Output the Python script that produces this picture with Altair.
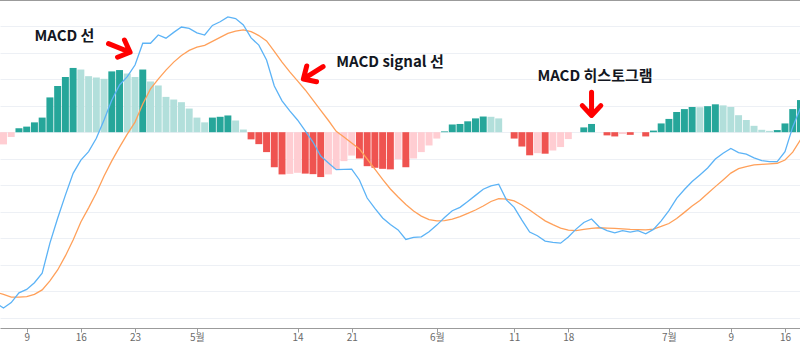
import altair as alt
import pandas as pd

# ---------------- data ----------------
start_date = "2019-04-05"

hist_values = [
    # April 5 .. 30
    -6.0, -4.6, -1.8, 1.5, 2.1, 3.7, 5.5, 13.1, 17.4, 20.8, 24.2, 23.6, 21.1,
    20.6, 20.1, 22.9, 23.4, 22.1, 20.8, 23.6, 19.1, 17.6, 13.3, 12.3, 11.3, 8.9,
    # May 1 .. 31
    5.5, 3.7, 5.5, 5.8, 6.3, 4.4, 1.0, -2.7, -4.5, -7.5, -13.2, -15.9, -15.7,
    -15.3, -15.6, -15.8, -16.9, -15.9, -14.0, -10.9, -8.8, -9.9, -12.8, -13.4,
    -13.8, -14.0, -10.2, -13.2, -9.9, -7.5, -5.0,
    # June 1 .. 30
    -2.4, 0.3, 2.9, 3.1, 4.1, 5.2, 5.9, 5.8, 5.2, 0.0, -2.4, -5.4, -8.7, -7.9,
    -8.1, -6.9, -5.6, -2.6, 0.0, 1.8, 3.1, 0.0, -1.2, -1.6, -0.7, -1.0, 0.0,
    -1.6, 0.6, 3.3,
    # July 1 .. 18
    5.0, 7.6, 8.7, 9.5, 9.4, 9.8, 10.5, 10.1, 9.5, 6.4, 4.6, 2.4, 0.9, 0.5, 0.8,
    3.3, 8.7, 12.1,
]

macd_values = [
    -64.3, -66.2, -64.2, -60.5, -59.2, -56.7, -53.1, -41.8, -32.4, -23.7, -15.5,
    -10.5, -7.3, -2.3, 4.6, 12.1, 17.8, 20.9, 25.3, 33.5, 33.5, 36.6, 35.4, 37.6,
    39.6, 39.1,
    37.4, 36.6, 40.2, 41.6, 43.4, 42.8, 40.4, 35.5, 32.8, 27.2, 17.4, 11.8, 8.0,
    4.6, 0.5, -3.7, -9.0, -11.6, -14.1, -14.0, -13.9, -18.0, -24.8, -28.7, -32.3,
    -34.8, -36.8, -40.4, -39.6, -39.4, -37.5,
    -35.0, -32.1, -29.6, -28.3, -26.1, -23.8, -21.5, -20.2, -19.6, -25.5, -28.3,
    -33.1, -37.6, -39.0, -41.0, -41.5, -41.8, -39.5, -36.5, -34.0, -32.7, -35.7,
    -37.1, -37.9, -37.1, -37.6, -37.1, -38.3, -36.6, -33.4,
    -29.5, -24.9, -21.6, -18.6, -16.1, -13.5, -10.1, -7.9, -6.1, -7.7, -8.3,
    -9.7, -10.7, -11.1, -11.1, -7.3, 2.0, 9.1,
]

signal_values = [
    -60.2, -61.1, -62.1, -62.1, -61.9, -61.1, -59.4, -56.0, -51.9, -46.6, -40.6,
    -33.8, -28.5, -22.9, -16.5, -10.8, -5.6, -0.7, 3.8, 10.6, 16.3, 20.0, 23.4,
    26.4, 28.9, 30.8,
    32.0, 32.7, 34.2, 35.7, 37.2, 38.1, 38.5, 37.9, 36.4, 34.4, 30.4, 26.4, 22.7,
    19.3, 15.9, 12.1, 8.2, 4.4, 0.3, -1.8, -4.1, -6.3, -10.1, -13.9, -17.8,
    -21.4, -24.4, -27.2, -29.7, -31.6, -32.9,
    -33.4, -33.3, -32.7, -31.8, -30.6, -29.3, -27.8, -26.1, -25.0, -25.2, -25.9,
    -27.4, -29.3, -31.4, -33.4, -34.8, -36.1, -36.9, -37.1, -36.6, -36.2, -36.0,
    -36.1, -36.2, -36.4, -36.6, -36.7, -36.8, -36.5, -35.5,
    -34.4, -32.5, -30.2, -27.8, -25.7, -23.1, -20.5, -18.0, -15.4, -13.7, -13.0,
    -12.3, -12.1, -11.9, -11.7, -10.5, -7.5, -2.9,
]

tick_dates = ["2019-04-09", "2019-04-16", "2019-04-23", "2019-05-01",
              "2019-05-14", "2019-05-21", "2019-06-01", "2019-06-11",
              "2019-06-18", "2019-07-01", "2019-07-09", "2019-07-16"]

grid_values = [-70, -60, -50, -40, -30, -20, -10, 0, 10, 20, 30, 40]

ann_labels = ["MACD 선", "MACD signal 선", "MACD 히스토그램"]
ann_dates = ["2019-04-10", "2019-05-19", "2019-06-14"]
ann_values = [36.3, 26.6, 21.2]

arrow_dates = ["2019-04-21", "2019-05-16", "2019-06-21"]
arrow_values = [31.7, 22.3, 10.6]

# ---------------- helpers ----------------
DAY_MS = 86400000


def ms(s):
    return int(pd.Timestamp(s, tz="UTC").value // 10**6)


dates = pd.date_range(start_date, periods=len(hist_values), freq="D", tz="UTC")
t_ms = [int(d.value // 10**6) for d in dates]

kinds = []
prev = hist_values[0]
for v in hist_values:
    if v >= 0:
        kinds.append("pos_up" if v >= prev else "pos_down")
    else:
        kinds.append("neg_down" if v < prev else "neg_up")
    prev = v

hist_df = pd.DataFrame({
    "t0": [t - 0.45 * DAY_MS for t in t_ms],
    "t1": [t + 0.45 * DAY_MS for t in t_ms],
    "hist": hist_values,
    "kind": kinds,
})

macd_df = pd.DataFrame({"t": t_ms, "v": macd_values})
signal_df = pd.DataFrame({"t": t_ms, "v": signal_values})

ann_df = pd.DataFrame({"t": [ms(d) for d in ann_dates], "v": ann_values,
                       "label": ann_labels})

x_domain = [ms("2019-04-09") - int(3.45 * DAY_MS),
            ms("2019-04-09") + int(99.94 * DAY_MS)]

xs = alt.Scale(type="utc", domain=x_domain, nice=False)
ys = alt.Scale(domain=[-73.75, 49.79], nice=False, zero=False)

x_axis = alt.Axis(
    values=[ms(d) for d in tick_dates],
    labelExpr="utcdate(datum.value) == 1 ? (utcmonth(datum.value) + 1) + '월' : '' + utcdate(datum.value)",
    title=None, grid=False, domainColor="#9b9b9b", tickColor="#9b9b9b",
    tickSize=4, labelColor="#6a6a6a", labelFontSize=10,
    labelFont="Noto Sans CJK KR", labelPadding=0, labelFlush=False,
    labelOverlap=False,
)
y_axis = alt.Axis(values=grid_values, grid=True, labels=False, ticks=False,
                  domain=False, title=None, gridColor="#edf0f5", gridWidth=1)

bars = alt.Chart(hist_df).mark_bar(clip=True).encode(
    x=alt.X("t0:T", scale=xs, axis=x_axis),
    x2="t1:T",
    y=alt.Y("hist:Q", scale=ys, axis=y_axis),
    y2=alt.datum(0),
    color=alt.Color("kind:N", legend=None, scale=alt.Scale(
        domain=["pos_up", "pos_down", "neg_down", "neg_up"],
        range=["#26a69a", "#b2dfdb", "#ef5350", "#ffcdd2"])),
)

signal_line = alt.Chart(signal_df).mark_line(
    clip=True, strokeWidth=1.3, color="#ffa05a"
).encode(
    x=alt.X("t:T", scale=xs, axis=x_axis),
    y=alt.Y("v:Q", scale=ys, axis=y_axis),
    order=alt.Order("t:Q"),
)

macd_line = alt.Chart(macd_df).mark_line(
    clip=True, strokeWidth=1.3, color="#5cb3f6"
).encode(
    x=alt.X("t:T", scale=xs, axis=x_axis),
    y=alt.Y("v:Q", scale=ys, axis=y_axis),
    order=alt.Order("t:Q"),
)

texts = alt.Chart(ann_df).mark_text(
    align="left", baseline="middle", font="Noto Sans CJK KR",
    fontWeight="bold", fontSize=15, color="#131722",
).encode(
    x=alt.X("t:T", scale=xs, axis=x_axis),
    y=alt.Y("v:Q", scale=ys, axis=y_axis),
    text="label:N",
)

ARROW_PATH = "M-0.9,0 L0.8,0 M0.12,-0.7 L0.86,0 L0.12,0.7"
arrow_angles = [22, 148, 90]

arrow_layers = []
for d, v, ang in zip(arrow_dates, arrow_values, arrow_angles):
    adf = pd.DataFrame({"t": [ms(d)], "v": [v]})
    arrow_layers.append(
        alt.Chart(adf).mark_point(
            shape=ARROW_PATH, size=700, filled=False, stroke="#ff0000",
            strokeWidth=5, strokeCap="round", strokeJoin="round",
            angle=ang, opacity=1,
        ).encode(
            x=alt.X("t:T", scale=xs, axis=x_axis),
            y=alt.Y("v:Q", scale=ys, axis=y_axis),
        )
    )

top_border = alt.Chart(pd.DataFrame({"a": [0]})).mark_rule(
    color="#9b9b9b", strokeWidth=1
).encode(x=alt.value(0), x2=alt.value(800), y=alt.value(0.5))

chart = alt.layer(bars, signal_line, macd_line, texts, *arrow_layers,
                  top_border).properties(
    width=800, height=328,
    padding={"left": 0, "right": 0, "top": 0, "bottom": 25},
    autosize=alt.AutoSizeParams(type="none"),
    background="white",
).configure_view(stroke=None)

chart.save("out.html", embed_options={"renderer": "svg", "actions": False})
